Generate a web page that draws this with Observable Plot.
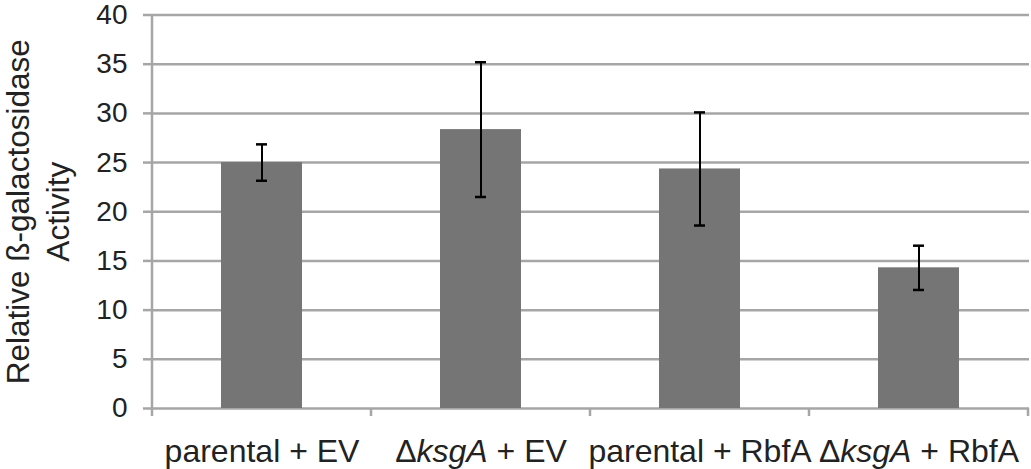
<!DOCTYPE html>
<html>
<head>
<meta charset="utf-8">
<script src="https://cdn.jsdelivr.net/npm/d3@7"></script>
<script src="https://cdn.jsdelivr.net/npm/@observablehq/plot@0.6"></script>
<style>
  html, body { margin: 0; padding: 0; background: #fff; }
</style>
</head>
<body>
<div id="chart"></div>
<script>
const categories = ["parental + EV", "ΔksgA + EV", "parental + RbfA", "ΔksgA + RbfA"];
const means = [25.0, 28.35, 24.35, 14.3];
const errors = [1.85, 6.85, 5.75, 2.25];
const yTicks = [0, 5, 10, 15, 20, 25, 30, 35, 40];
const yTitle = "Relative ß-galactosidase\nActivity";

const data = categories.map((c, i) => ({cat: c, v: means[i], lo: means[i] - errors[i], hi: means[i] + errors[i]}));

const GRID = "#a6a6a6";
const TEXT = "#222";
const FONT = "Liberation Sans, Arial, sans-serif";

const chart = Plot.plot({
  width: 1031,
  height: 469,
  marginLeft: 152,
  marginRight: 2,
  marginTop: 14.5,
  marginBottom: 61,
  style: {fontFamily: FONT, fontSize: "28px", color: TEXT, background: "#fff"},
  x: {domain: categories, paddingInner: 0.63, paddingOuter: 0.315, label: null},
  y: {domain: [0, 40], label: null},
  marks: [
    Plot.gridY(yTicks, {stroke: GRID, strokeOpacity: 1, strokeWidth: 2.5}),
    Plot.axisY(yTicks, {stroke: GRID, strokeWidth: 2.5, tickSize: 9, tickPadding: 16, fontSize: 28, fill: TEXT, label: null}),
    Plot.axisX({tickSize: 0, tickPadding: 31, fontSize: 32, fill: TEXT, label: null}),
    Plot.barY(data, {x: "cat", y: "v", fill: "#747574"}),
    Plot.ruleX(data, {x: "cat", y1: "lo", y2: "hi", stroke: "#000", strokeWidth: 2}),
    Plot.tickY(data, {x: "cat", y: "lo", stroke: "#000", strokeWidth: 2.5, insetLeft: 35, insetRight: 35}),
    Plot.tickY(data, {x: "cat", y: "hi", stroke: "#000", strokeWidth: 2.5, insetLeft: 35, insetRight: 35}),
    Plot.text([yTitle], {frameAnchor: "left", text: d => d, rotate: -90, dx: -116, fontSize: 31.5, fill: TEXT, lineHeight: 1.27, textAnchor: "middle", lineAnchor: "middle"})
  ]
});

// axis line and category boundary ticks, positioned from the library's scales
const xs = chart.scale("x");
const ys = chart.scale("y");
const svg = d3.select(chart.tagName === "svg" ? chart : chart.querySelector("svg"));
const y0 = ys.apply(0);
const yTop = ys.apply(40);
const gap = (xs.step - xs.bandwidth) / 2;
const bounds = categories.map(c => xs.apply(c) - gap);
bounds.push(xs.apply(categories[categories.length - 1]) + xs.bandwidth + gap);
const g = svg.append("g");
g.append("line").attr("x1", bounds[0]).attr("x2", bounds[0]).attr("y1", yTop).attr("y2", y0)
  .attr("stroke", GRID).attr("stroke-width", 2.5);
bounds.forEach(b => {
  g.append("line").attr("x1", b).attr("x2", b).attr("y1", y0).attr("y2", y0 + 8)
    .attr("stroke", GRID).attr("stroke-width", 2.5);
});

// italicise gene name in tick labels
svg.selectAll("text").each(function() {
  const t = this.textContent;
  if (t.startsWith("Δ") && t.includes("ksgA")) {
    const rest = t.slice("ΔksgA".length);
    const el = d3.select(this);
    el.text(null);
    el.append("tspan").text("Δ");
    el.append("tspan").attr("font-style", "italic").text("ksgA");
    el.append("tspan").text(rest);
  }
});

document.getElementById("chart").appendChild(chart);
</script>
</body>
</html>
